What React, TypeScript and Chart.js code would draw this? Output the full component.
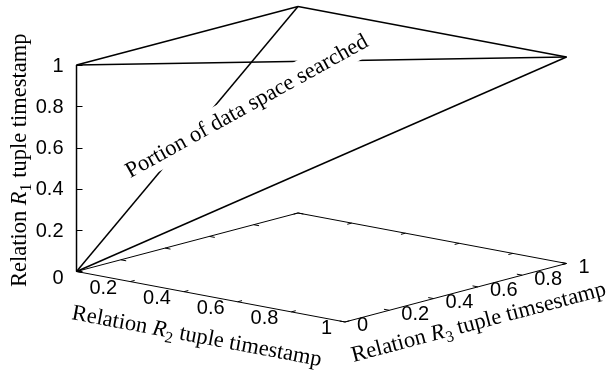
import React, { useEffect, useRef } from "react";
import { Chart, registerables } from "chart.js";
Chart.register(...registerables);

// ---- data (3D coords are [R2, R3, R1]) ----
const r2Ticks = [0, 0.2, 0.4, 0.6, 0.8, 1];
const r2TickLabels = ["0", "0.2", "0.4", "0.6", "0.8", "1"];
const r3Ticks = [0, 0.2, 0.4, 0.6, 0.8, 1];
const r3TickLabels = ["0", "0.2", "0.4", "0.6", "0.8", "1"];
const r1Ticks = [0, 0.2, 0.4, 0.6, 0.8, 1];
const r1TickLabels = ["", "0.2", "0.4", "0.6", "0.8", "1"];

// searched region: tetrahedron vertices and edges
const regionVertices = [
  [0, 0, 0],
  [0, 0, 1],
  [0, 1, 1],
  [1, 1, 1],
];
const regionEdges = [
  [0, 1],
  [0, 2],
  [0, 3],
  [1, 2],
  [2, 3],
  [1, 3],
];
// base of the box (R1 = 0)
const baseCorners = [
  [0, 0, 0],
  [1, 0, 0],
  [1, 1, 0],
  [0, 1, 0],
  [0, 0, 0],
];
const regionLabel = "Portion of data space searched";
const regionLabelAt = [0, 0.77, 0.58];

// ---- view / projection (parallel projection) ----
const VIEW = { ux: 0.7738, uy: 0.6383, vx: -0.1455, vy: 0.1686, vz: 0.5951 };
const U_RANGE = [-0.2205, 1.5317];
const V_RANGE = [-0.2954, 0.7824];
const TICK_FRAC = 0.02;

const proj = (p: number[]) => ({
  x: p[0] * VIEW.ux + p[1] * VIEW.uy,
  y: p[0] * VIEW.vx + p[1] * VIEW.vy + p[2] * VIEW.vz,
});

type Seg = { text: string; italic?: boolean; sub?: boolean };
const SERIF = "'Liberation Serif', 'Times New Roman', serif";
const SANS = "'Liberation Sans', Arial, sans-serif";
const TITLE_SIZE = 22.5;
const TICK_SIZE = 20;

function drawRich(
  ctx: CanvasRenderingContext2D,
  segs: Seg[],
  cx: number,
  cy: number,
  angleDeg: number,
  size: number,
  family: string,
  box = false
) {
  const fontFor = (s: Seg) =>
    `${s.italic ? "italic " : ""}${s.sub ? Math.round(size * 0.7) : size}px ${family}`;
  ctx.save();
  ctx.translate(cx, cy);
  ctx.rotate((angleDeg * Math.PI) / 180);
  const widths = segs.map((s) => {
    ctx.font = fontFor(s);
    return ctx.measureText(s.text).width;
  });
  const total = widths.reduce((a, b) => a + b, 0);
  if (box) {
    ctx.fillStyle = "#ffffff";
    ctx.fillRect(-total / 2 - 4, -size * 0.72, total + 8, size * 1.35);
  }
  ctx.fillStyle = "#000000";
  ctx.textBaseline = "middle";
  ctx.textAlign = "left";
  let x = -total / 2;
  segs.forEach((s, i) => {
    ctx.font = fontFor(s);
    ctx.fillText(s.text, x, s.sub ? size * 0.3 : 0);
    x += widths[i];
  });
  ctx.restore();
}

const r1Title: Seg[] = [
  { text: "Relation " },
  { text: "R", italic: true },
  { text: "1", sub: true },
  { text: " tuple timestamp" },
];
const r2Title: Seg[] = [
  { text: "Relation " },
  { text: "R", italic: true },
  { text: "2", sub: true },
  { text: " tuple timestamp" },
];
const r3Title: Seg[] = [
  { text: "Relation " },
  { text: "R", italic: true },
  { text: "3", sub: true },
  { text: " tuple timsestamp" },
];

const lineDs = (pts: number[][], width: number) => ({
  data: pts.map(proj),
  showLine: true,
  borderColor: "#000000",
  borderWidth: width,
  pointRadius: 0,
  fill: false,
  tension: 0,
});

export default function App() {
  const ref = useRef<HTMLCanvasElement | null>(null);
  useEffect(() => {
    if (!ref.current) return;
    const datasets: any[] = [];
    datasets.push(lineDs(baseCorners, 1));
    // base ticks
    r2Ticks.forEach((t) => {
      datasets.push(lineDs([[t, 0, 0], [t, TICK_FRAC, 0]], 1));
      datasets.push(lineDs([[t, 1, 0], [t, 1 - TICK_FRAC, 0]], 1));
    });
    r3Ticks.forEach((t) => {
      datasets.push(lineDs([[1, t, 0], [1 - TICK_FRAC, t, 0]], 1));
      datasets.push(lineDs([[0, t, 0], [TICK_FRAC, t, 0]], 1));
    });
    regionEdges.forEach(([a, b]) => {
      datasets.push(lineDs([regionVertices[a], regionVertices[b]], 1.5));
    });

    const px = (chart: any, p: number[]) => {
      const q = proj(p);
      return { x: chart.scales.x.getPixelForValue(q.x), y: chart.scales.y.getPixelForValue(q.y) };
    };

    const labels = {
      id: "labels3d",
      afterDatasetsDraw(chart: any) {
        const ctx: CanvasRenderingContext2D = chart.ctx;
        ctx.save();
        // z ticks
        ctx.strokeStyle = "#000";
        ctx.lineWidth = 1;
        r1Ticks.forEach((t) => {
          const p = px(chart, [0, 0, t]);
          ctx.beginPath();
          ctx.moveTo(p.x, Math.round(p.y) + 0.5);
          ctx.lineTo(p.x + 6, Math.round(p.y) + 0.5);
          ctx.stroke();
        });
        ctx.fillStyle = "#000";
        ctx.font = `${TICK_SIZE}px ${SANS}`;
        ctx.textBaseline = "middle";
        ctx.textAlign = "right";
        r1Ticks.forEach((t, i) => {
          const p = px(chart, [0, 0, t]);
          ctx.fillText(r1TickLabels[i], p.x - 13, p.y + 1);
        });
        r2Ticks.forEach((t, i) => {
          const p = px(chart, [t, 0, 0]);
          ctx.fillText(r2TickLabels[i], p.x - 13, p.y + 7);
        });
        ctx.textAlign = "left";
        r3Ticks.forEach((t, i) => {
          const p = px(chart, [1, t, 0]);
          ctx.fillText(r3TickLabels[i], p.x + 12, p.y + 4);
        });
        // axis titles
        const z0 = px(chart, [0, 0, 0.5]);
        drawRich(ctx, r1Title, z0.x - 56, z0.y - 8, -90, TITLE_SIZE, SERIF);
        const xa = px(chart, [0, 0, 0]);
        const xb = px(chart, [1, 0, 0]);
        const xm = px(chart, [0.5, 0, 0]);
        const angX = (Math.atan2(xb.y - xa.y, xb.x - xa.x) * 180) / Math.PI;
        drawRich(ctx, r2Title, xm.x - 14, xm.y + 40, angX, TITLE_SIZE, SERIF);
        const ya = px(chart, [1, 0, 0]);
        const yb = px(chart, [1, 1, 0]);
        const ym = px(chart, [1, 0.5, 0]);
        const angY = (Math.atan2(yb.y - ya.y, yb.x - ya.x) * 180) / Math.PI;
        drawRich(ctx, r3Title, ym.x + 23, ym.y + 30, angY, TITLE_SIZE, SERIF);
        // region label
        const lp = px(chart, regionLabelAt);
        drawRich(ctx, [{ text: regionLabel }], lp.x, lp.y, -29, TITLE_SIZE, SERIF, true);
        ctx.restore();
      },
    };

    const chart = new Chart(ref.current, {
      type: "scatter",
      data: { datasets },
      options: {
        animation: false,
        responsive: false,
        maintainAspectRatio: false,
        layout: { padding: 0 },
        scales: {
          x: { type: "linear", min: U_RANGE[0], max: U_RANGE[1], display: false },
          y: { type: "linear", min: V_RANGE[0], max: V_RANGE[1], display: false },
        },
        plugins: { legend: { display: false }, tooltip: { enabled: false } },
        events: [],
      },
      plugins: [labels],
    });
    return () => chart.destroy();
  }, []);
  return (
    <div style={{ position: "absolute", left: 0, top: 0, width: 608, height: 374, background: "#fff" }}>
      <canvas ref={ref} width={608} height={374} style={{ display: "block" }} />
    </div>
  );
}
